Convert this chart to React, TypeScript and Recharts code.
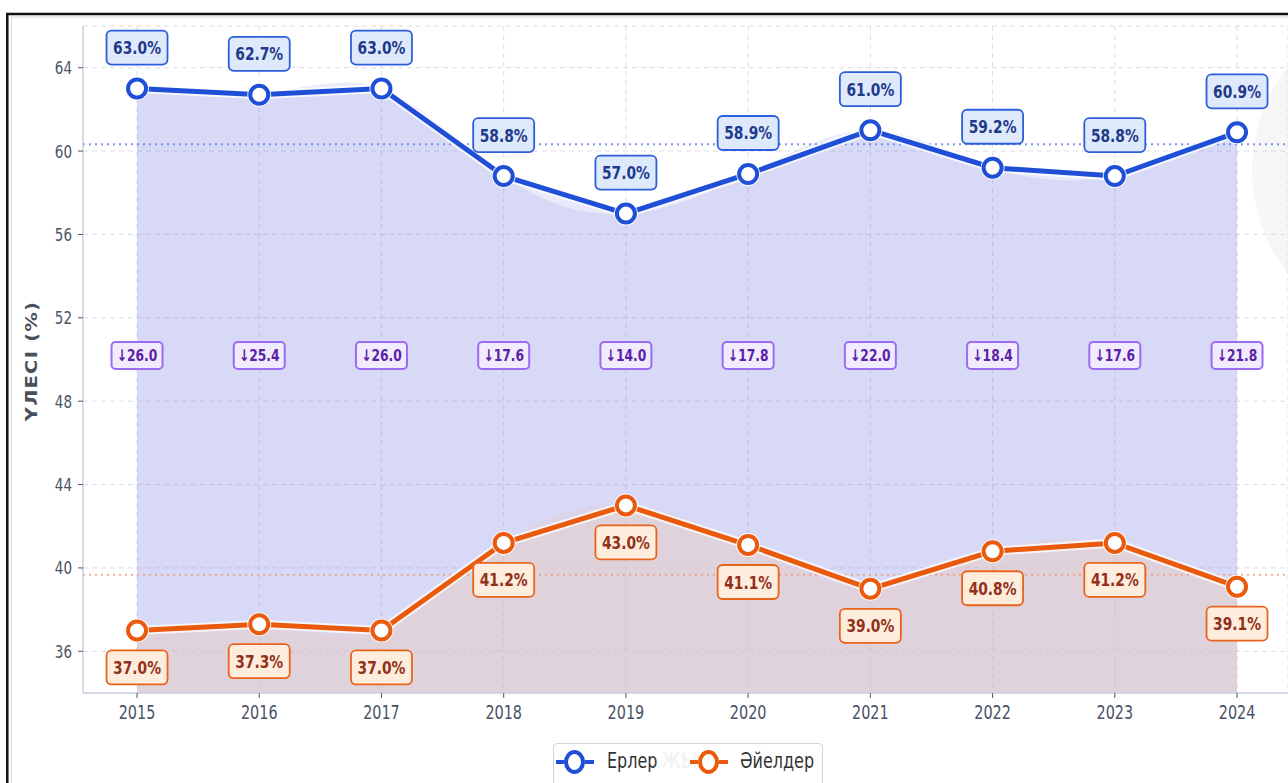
import React from 'react';
import {
  ComposedChart, Line, Area, XAxis, YAxis, CartesianGrid, ReferenceLine, LabelList,
} from 'recharts';

const years = [2015, 2016, 2017, 2018, 2019, 2020, 2021, 2022, 2023, 2024];
const menShare = [63.0, 62.7, 63.0, 58.8, 57.0, 58.9, 61.0, 59.2, 58.8, 60.9];
const womenShare = [37.0, 37.3, 37.0, 41.2, 43.0, 41.1, 39.0, 40.8, 41.2, 39.1];
const gapLabels = ['↓26.0', '↓25.4', '↓26.0', '↓17.6', '↓14.0', '↓17.8', '↓22.0', '↓18.4', '↓17.6', '↓21.8'];
const yTicks = [36, 40, 44, 48, 52, 56, 60, 64];
const seriesNames = ['Ерлер', 'Әйелдер'];
const yAxisTitle = 'ҮЛЕСІ (%)';
const xAxisTitle = 'ЖЫЛ';

const data = years.map((y, i) => ({ year: y, men: menShare[i], women: womenShare[i] }));
const menAvg = menShare.reduce((a, b) => a + b, 0) / menShare.length;
const womenAvg = womenShare.reduce((a, b) => a + b, 0) / womenShare.length;

const BLUE = '#1f4fd6';
const ORANGE = '#e95a0c';
const FONT = '"DejaVu Sans", sans-serif';
const SY = 1.3;

const STxt = ({ x, y, size, weight, fill, anchor, children }: any) => (
  <text
    transform={`translate(${x},${y}) scale(1,${SY})`}
    x={0}
    y={0}
    textAnchor={anchor || 'middle'}
    fontFamily={FONT}
    fontWeight={weight || 'normal'}
    fontSize={size}
    fill={fill}
  >
    {children}
  </text>
);

const XTick = (p: any) => (
  <STxt x={p.x} y={p.y + 19} size={14.4} fill="#4a5366">{p.payload.value}</STxt>
);
const YTick = (p: any) => (
  <STxt x={p.x - 4} y={p.y + 6.5} size={13.5} fill="#4a5366" anchor="end">{p.payload.value}</STxt>
);

const MenLabel = (p: any) => {
  const { x, y, value } = p;
  if (x == null || y == null) return null;
  const cy = y - 41;
  return (
    <g>
      <rect x={x - 30.5} y={cy - 17} width={61} height={34} rx={5} fill="#dfe9fc" stroke="#2d5fdc" strokeWidth={1.8} />
      <STxt x={x} y={cy + 6.5} size={13.8} weight="bold" fill="#1e3a8a">{Number(value).toFixed(1)}%</STxt>
    </g>
  );
};

const WomenLabel = (p: any) => {
  const { x, y, value } = p;
  if (x == null || y == null) return null;
  const cy = y + 37;
  return (
    <g>
      <rect x={x - 30.5} y={cy - 17} width={61} height={34} rx={5} fill="#feecdc" stroke="#e8641c" strokeWidth={1.8} />
      <STxt x={x} y={cy + 6.5} size={13.8} weight="bold" fill="#92301a">{Number(value).toFixed(1)}%</STxt>
    </g>
  );
};

const GapLabel = (p: any) => {
  const { x, y, index } = p;
  if (x == null || y == null) return null;
  const cy = y - 4;
  return (
    <g>
      <rect x={x - 25.5} y={cy - 13.5} width={51} height={27} rx={4} fill="#f1ecfd" stroke="#9a6cf0" strokeWidth={2} />
      <STxt x={x} y={cy + 5.5} size={12.3} weight="bold" fill="#5b21a6">{gapLabels[index]}</STxt>
    </g>
  );
};

const LegendIcon = ({ x, color }: { x: number; color: string }) => (
  <g>
    <line x1={x} y1={762} x2={x + 8} y2={762} stroke={color} strokeWidth={4} />
    <line x1={x + 29} y1={762} x2={x + 38} y2={762} stroke={color} strokeWidth={4} />
    <ellipse cx={x + 18.5} cy={762} rx={8.5} ry={10} fill="#fff" stroke={color} strokeWidth={4} />
  </g>
);

export default function App() {
  return (
    <div style={{ position: 'absolute', left: 0, top: 0, width: 1288, height: 783, overflow: 'hidden', background: '#fff', fontFamily: FONT }}>
      <svg width={1288} height={783} style={{ position: 'absolute', left: 0, top: 0 }}>
        <circle cx={1420} cy={170} r={168} fill="#f6f6f7" />
      </svg>
      <div style={{ position: 'absolute', left: 0, top: 0 }}>
        <ComposedChart width={1288} height={783} data={data} margin={{ top: 26, right: 0, left: 0, bottom: 50 }}>
          <CartesianGrid strokeDasharray="5 4" stroke="#dcdde6" />
          <XAxis
            dataKey="year"
            type="number"
            domain={[2014.558, 2024.417]}
            ticks={years}
            allowDataOverflow
            height={40}
            tickSize={5}
            tick={XTick}
            tickLine={{ stroke: '#555' }}
            axisLine={{ stroke: '#c9d1e3', strokeWidth: 1.5 }}
          />
          <YAxis
            type="number"
            domain={[34, 66]}
            ticks={yTicks}
            allowDataOverflow
            width={83}
            tickSize={5}
            tick={YTick}
            tickLine={{ stroke: '#555' }}
            axisLine={{ stroke: '#c9d1e3', strokeWidth: 1.5 }}
          />
          <Area type="natural" dataKey="men" stroke="none" fill="#7b7fe6" fillOpacity={0.15} isAnimationActive={false} />
          <Area type="linear" dataKey="men" stroke="none" fill="#7b7fe6" fillOpacity={0.17} isAnimationActive={false} />
          <Area type="natural" dataKey="women" stroke="none" fill="#f0c8b0" fillOpacity={0.2} isAnimationActive={false} />
          <Area type="linear" dataKey="women" stroke="none" fill="#f0c8b0" fillOpacity={0.24} isAnimationActive={false} />
          <ReferenceLine y={menAvg} stroke="#5a7de0" strokeWidth={2} strokeDasharray="2 4" strokeOpacity={0.8} />
          <ReferenceLine y={womenAvg} stroke="#f09a70" strokeWidth={2} strokeDasharray="2 4" strokeOpacity={0.8} />
          <Line
            type="linear"
            dataKey="men"
            stroke="#ffffff"
            strokeOpacity={0.75}
            strokeWidth={9}
            dot={{ r: 12, fill: '#fff', stroke: 'none', fillOpacity: 0.85 }}
            activeDot={false}
            isAnimationActive={false}
          />
          <Line
            type="linear"
            dataKey="men"
            stroke={BLUE}
            strokeWidth={5}
            dot={{ r: 9, fill: '#fff', stroke: BLUE, strokeWidth: 4 }}
            activeDot={false}
            isAnimationActive={false}
          >
            <LabelList dataKey="men" content={MenLabel} />
          </Line>
          <Line
            type="linear"
            dataKey="women"
            stroke="#ffffff"
            strokeOpacity={0.75}
            strokeWidth={9}
            dot={{ r: 12, fill: '#fff', stroke: 'none', fillOpacity: 0.85 }}
            activeDot={false}
            isAnimationActive={false}
          />
          <Line
            type="linear"
            dataKey="women"
            stroke={ORANGE}
            strokeWidth={5}
            dot={{ r: 9, fill: '#fff', stroke: ORANGE, strokeWidth: 4 }}
            activeDot={false}
            isAnimationActive={false}
          >
            <LabelList dataKey="women" content={WomenLabel} />
          </Line>
          <Line
            type="linear"
            dataKey={(d: any) => (d.men + d.women) / 2}
            stroke="none"
            dot={false}
            activeDot={false}
            isAnimationActive={false}
          >
            <LabelList content={GapLabel} />
          </Line>
        </ComposedChart>
      </div>
      <svg width={1288} height={783} style={{ position: 'absolute', left: 0, top: 0, pointerEvents: 'none' }}>
        <text
          transform={`translate(31,361) rotate(-90) scale(1.22,1)`}
          x={0}
          y={0}
          textAnchor="middle"
          dominantBaseline="central"
          fontFamily={FONT}
          fontWeight="bold"
          fontSize={16}
          fill="#4a4f5c"
          letterSpacing={1}
        >
          {yAxisTitle}
        </text>
        <STxt x={686} y={768} size={16} weight="bold" fill="#4a4f5c">{xAxisTitle}</STxt>
        <rect x={553.5} y={743.5} width={269} height={60} rx={4} fill="#ffffff" fillOpacity={0.94} stroke="#cfd4dc" strokeWidth={1} />
        <LegendIcon x={556} color={BLUE} />
        <STxt x={607} y={768} size={16} fill="#333" anchor="start">{seriesNames[0]}</STxt>
        <LegendIcon x={690} color={ORANGE} />
        <STxt x={740} y={768} size={16} fill="#333" anchor="start">{seriesNames[1]}</STxt>
        <rect x={11.5} y={17} width={1290} height={790} fill="none" stroke="#d8d8d8" strokeWidth={1} />
        <line x1={6} y1={14} x2={1288} y2={14} stroke="#111" strokeWidth={2.5} />
        <line x1={7.3} y1={13} x2={7.3} y2={783} stroke="#111" strokeWidth={2.5} />
      </svg>
    </div>
  );
}
